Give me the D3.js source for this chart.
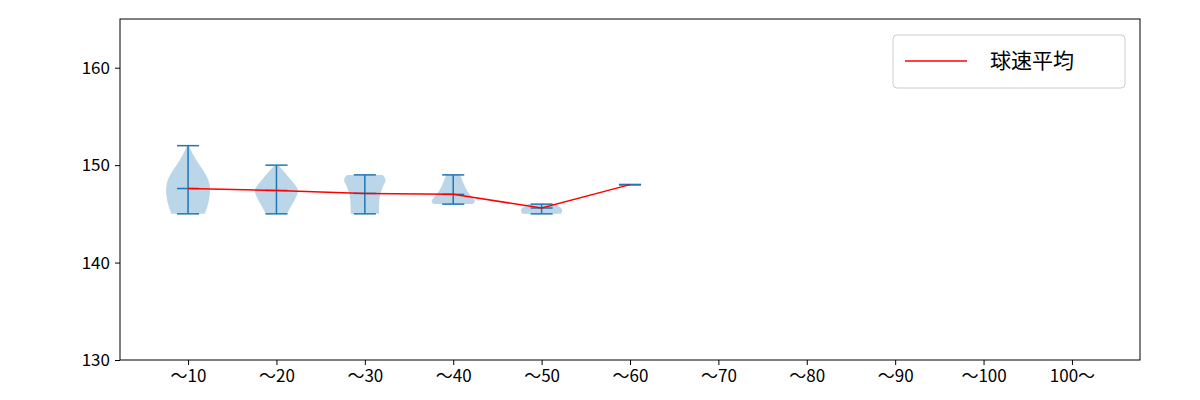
<!DOCTYPE html><html><head><meta charset="utf-8"><script src="https://d3js.org/d3.v7.min.js"></script>
<style>body{margin:0;background:#fff}text{font-family:"Noto Sans CJK JP","DejaVu Sans",sans-serif}</style></head><body><svg id="c" width="1200" height="400"></svg>
<script>
const categories=["～10","～20","～30","～40","～50","～60","～70","～80","～90","～100","100～"];
const mins=[145,145,145,146,145,148];
const maxs=[152,150,149,149,146,148];
const means=[147.6,147.4,147.1,147.0,145.6,148.0];
const profiles=[
 [[145,0.19],[146,0.23],[147,0.25],[148,0.25],[149,0.21],[150,0.13],[151,0.06],[152,0.01]],
 [[145,0.12],[146,0.18],[147,0.24],[147.5,0.25],[148,0.21],[149,0.12],[150,0.02]],
 [[145,0.16],[146,0.16],[147,0.17],[148,0.21],[148.5,0.25],[149,0.2]],
 [[146,0.22],[146.2,0.25],[146.5,0.24],[147,0.18],[148,0.12],[149,0.08]],
 [[145,0.22],[145.5,0.25],[146,0.15]],
 []
];
const yTicks=[130,140,150,160];
const svg=d3.select("#c");
const L=120,R=1140,T=19,B=360;
const x=d3.scaleLinear().domain([0.23,11.77]).range([L,R]);
const y=d3.scaleLinear().domain([130,165]).range([B,T]);
const u=x(1)-x(0);
profiles.forEach((p,i)=>{
 if(!p.length)return;
 const c=i+1;
 const a=d3.area().curve(d3.curveBasis).y(d=>y(d[0])).x0(d=>x(c)-d[1]*u).x1(d=>x(c)+d[1]*u);
 svg.append("path").attr("d",a(p)).attr("fill","#1f77b4").attr("fill-opacity",0.3);
});
const blue="#1f77b4";
mins.forEach((m,i)=>{
 const c=i+1,h=0.125*u;
 svg.append("line").attr("x1",x(c)).attr("x2",x(c)).attr("y1",y(m)).attr("y2",y(maxs[i])).attr("stroke",blue).attr("stroke-width",1.5);
 [m,maxs[i],means[i]].forEach(v=>svg.append("line").attr("x1",x(c)-h).attr("x2",x(c)+h).attr("y1",y(v)).attr("y2",y(v)).attr("stroke",blue).attr("stroke-width",1.5));
});
svg.append("path").attr("d",d3.line().x((d,i)=>x(i+1)).y(d=>y(d))(means)).attr("fill","none").attr("stroke","red").attr("stroke-width",1.5);
svg.append("rect").attr("x",L).attr("y",T).attr("width",R-L).attr("height",B-T).attr("fill","none").attr("stroke","#000");
const ya=svg.append("g").attr("transform",`translate(${L},0)`).call(d3.axisLeft(y).tickValues(yTicks).tickSize(5).tickPadding(5));
const xa=svg.append("g").attr("transform",`translate(0,${B})`).call(d3.axisBottom(x).tickValues(d3.range(1,12)).tickFormat(d=>categories[d-1]).tickSize(5).tickPadding(5));
[ya,xa].forEach(g=>{g.select(".domain").remove();g.selectAll("text").attr("font-size",17).attr("fill","#000").style("font-family","'Noto Sans CJK JP',sans-serif");g.selectAll("line").attr("stroke","#000")});
const lg=svg.append("g");
lg.append("rect").attr("x",893).attr("y",35).attr("width",232).attr("height",53).attr("rx",4).attr("fill","#fff").attr("stroke","#ccc");
lg.append("line").attr("x1",905).attr("x2",967).attr("y1",61).attr("y2",61).attr("stroke","red").attr("stroke-width",1.5);
lg.append("text").attr("x",990).attr("y",68).attr("font-size",21).text("球速平均");
</script></body></html>
